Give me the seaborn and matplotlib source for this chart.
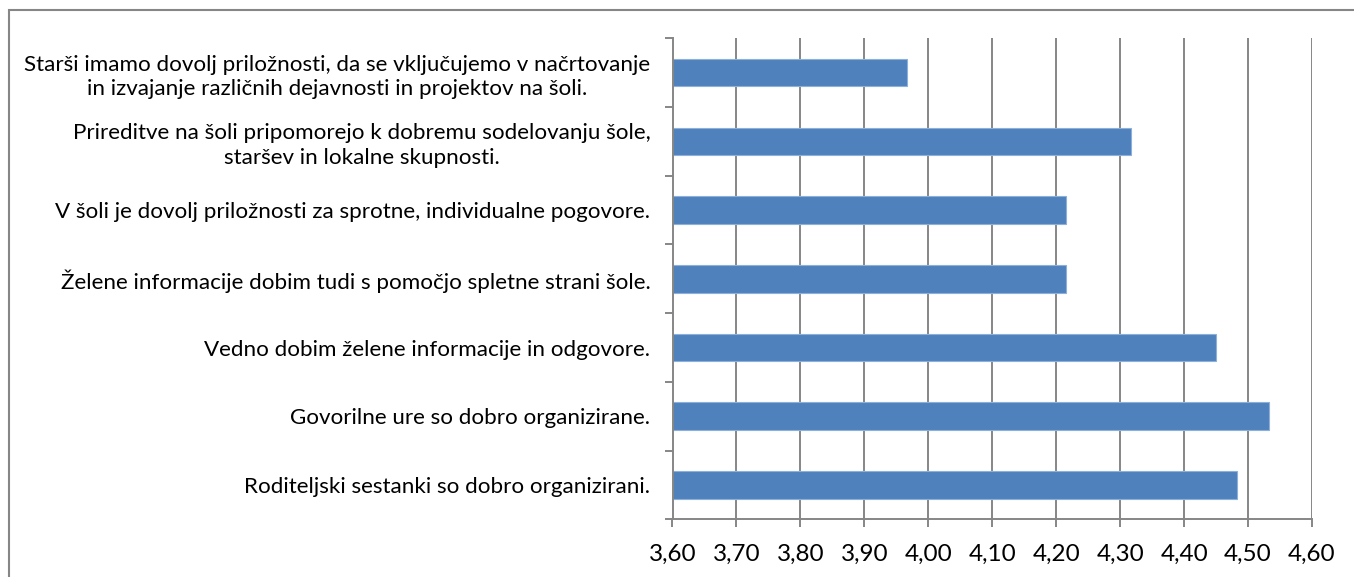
import pandas as pd
import matplotlib
matplotlib.use("Agg")
import matplotlib.pyplot as plt
import seaborn as sns
from matplotlib.patches import Rectangle
from matplotlib.ticker import FixedLocator, FuncFormatter

# ---------------------------------------------------------
# podatki (povprečne ocene)
# ---------------------------------------------------------
trditve = [
    "Starši imamo dovolj priložnosti, da se vključujemo v načrtovanje\n"
    "in izvajanje različnih dejavnosti in projektov na šoli.",
    "Prireditve na šoli pripomorejo k dobremu sodelovanju šole,\n"
    "staršev in lokalne skupnosti.",
    "V šoli je dovolj priložnosti za sprotne, individualne pogovore.",
    "Želene informacije dobim tudi s pomočjo spletne strani šole.",
    "Vedno dobim želene informacije in odgovore.",
    "Govorilne ure so dobro organizirane.",
    "Roditeljski sestanki so dobro organizirani.",
]
ocene = [3.967, 4.317, 4.216, 4.216, 4.45, 4.533, 4.483]
x_ticks = [3.6, 3.7, 3.8, 3.9, 4.0, 4.1, 4.2, 4.3, 4.4, 4.5, 4.6]

df = pd.DataFrame({"trditev": trditve, "ocena": ocene})

# ---------------------------------------------------------
# stil
# ---------------------------------------------------------
sns.set_theme(style="white")
plt.rcParams["font.family"] = ["Lato", "DejaVu Sans"]

BAR_COLOR = "#4F81BD"
GRID_COLOR = "#868686"
TEXT_COLOR = "#000000"

W, H = 1354, 577
fig = plt.figure(figsize=(W / 100, H / 100), dpi=100)
fig.patch.set_facecolor("white")
ax = fig.add_axes([672.5 / W, 1 - 519.3 / H, (1312 - 672.5) / W, (519.3 - 38.3) / H])

sns.barplot(
    data=df,
    x="ocena",
    y="trditev",
    orient="h",
    color=BAR_COLOR,
    saturation=1,
    width=0.4,
    edgecolor="#8DB0DA",
    linewidth=0.8,
    ax=ax,
)

ax.set_xlim(3.6, 4.6)
ax.set_ylim(6.5, -0.5)
ax.set_xlabel("")
ax.set_ylabel("")

# navpične mrežne črte
ax.xaxis.set_major_locator(FixedLocator(x_ticks))
ax.xaxis.set_major_formatter(FuncFormatter(lambda v, p: f"{v:.2f}".replace(".", ",")))
ax.grid(axis="x", color=GRID_COLOR, linewidth=1.4)
ax.set_axisbelow(True)

for side in ["top", "right"]:
    ax.spines[side].set_visible(False)
for side in ["left", "bottom"]:
    ax.spines[side].set_color(GRID_COLOR)
    ax.spines[side].set_linewidth(1.4)

ax.tick_params(axis="x", direction="out", length=6, width=1.4, color=GRID_COLOR,
               pad=12, labelsize=17.5, labelcolor=TEXT_COLOR, bottom=True)

# oznake kategorij brez črtic, črtice na mejah med kategorijami
ax.tick_params(axis="y", which="major", length=0, pad=16, labelsize=16.1, labelcolor=TEXT_COLOR)
ax.set_yticks([i - 0.5 for i in range(len(trditve) + 1)], minor=True)
ax.tick_params(axis="y", which="minor", direction="out", length=6, width=1.4,
               color=GRID_COLOR, left=True)
for lab in ax.get_yticklabels():
    lab.set_multialignment("center")
    lab.set_linespacing(1.3)

# okvir slike
fig.patches.append(Rectangle((9 / W, -0.1), 1.2, 1 - 9.5 / H + 0.1, transform=fig.transFigure,
                             fill=False, edgecolor=GRID_COLOR, linewidth=1.5, zorder=0))

fig.savefig("out.png", dpi=100, facecolor="white")
